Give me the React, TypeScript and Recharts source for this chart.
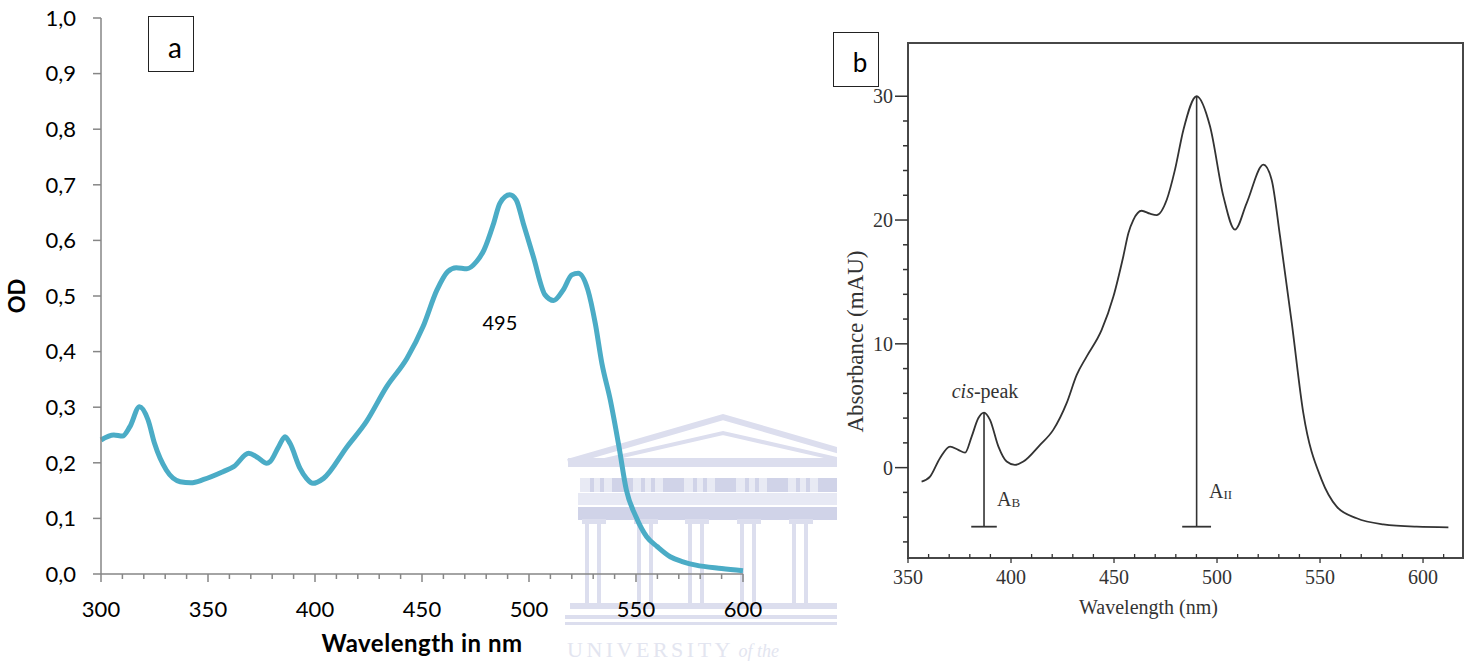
import React from "react";
import { LineChart, Line, XAxis, YAxis, ReferenceDot, ReferenceLine, ReferenceArea } from "recharts";

// panel a: OD spectrum (Excel-style)
const wavelengthA = [300, 306, 310, 313.5, 318, 322, 325, 330.5, 337, 342, 348, 357, 362, 369, 373, 377.5, 379, 383, 386, 388.3, 393, 396, 399, 404, 415, 424, 433.5, 443, 450.5, 457, 462, 466, 471, 475.5, 479, 483.5, 486.4, 491, 494, 497.3, 502, 507.5, 511.5, 516, 520, 523, 527.5, 531, 534, 538, 542, 545.5, 550, 555, 560, 566, 572, 578, 590, 600];
const odA = [0.241, 0.25, 0.248, 0.265, 0.301, 0.277, 0.235, 0.187, 0.166, 0.164, 0.17, 0.184, 0.193, 0.217, 0.21, 0.199, 0.202, 0.229, 0.247, 0.235, 0.19, 0.172, 0.163, 0.172, 0.229, 0.274, 0.337, 0.388, 0.445, 0.511, 0.544, 0.551, 0.549, 0.562, 0.583, 0.631, 0.667, 0.682, 0.673, 0.631, 0.571, 0.502, 0.492, 0.511, 0.538, 0.541, 0.511, 0.45, 0.38, 0.313, 0.23, 0.151, 0.103, 0.067, 0.049, 0.031, 0.022, 0.016, 0.01, 0.006];
const xTicksA = [300, 310, 320, 330, 340, 350, 360, 370, 380, 390, 400, 410, 420, 430, 440, 450, 460, 470, 480, 490, 500, 510, 520, 530, 540, 550, 560, 570, 580, 590, 600];
const yTicksA = [0, 0.1, 0.2, 0.3, 0.4, 0.5, 0.6, 0.7, 0.8, 0.9, 1.0];
const peakNoteA = { wl: 486.4, od: 0.451, text: "495" };

// panel b: absorbance spectrum (scanned figure)
const wavelengthB = [356.6, 360.7, 365.5, 370.4, 374.4, 377.7, 380.9, 384.1, 386.9, 389.8, 393.9, 397.9, 401.9, 406, 414.1, 420.5, 427, 431.9, 436.7, 444, 449.7, 454.5, 457, 459.4, 463.4, 467.5, 470.7, 475.6, 479.6, 483.7, 490.1, 496.6, 503.1, 508.7, 514.4, 522.5, 526.5, 530.6, 536.3, 541.9, 550.8, 558.1, 567.8, 580.7, 596.9, 612.3];
const absB = [-1.13, -0.73, 0.76, 1.7, 1.43, 1.21, 2.51, 3.99, 4.45, 3.86, 1.7, 0.49, 0.22, 0.49, 1.84, 3.05, 5.21, 7.49, 8.97, 11.13, 13.82, 17.06, 18.95, 20.02, 20.75, 20.51, 20.4, 21.64, 24.07, 27.3, 30.0, 27.57, 21.91, 19.22, 21.37, 24.47, 23.26, 18.67, 11.67, 4.4, -0.99, -3.15, -4.09, -4.58, -4.77, -4.82];
const xTicksB = [350, 360, 370, 380, 390, 400, 410, 420, 430, 440, 450, 460, 470, 480, 490, 500, 510, 520, 530, 540, 550, 560, 570, 580, 590, 600, 610];
const yTicksB = [-6, -4, -2, 0, 2, 4, 6, 8, 10, 12, 14, 16, 18, 20, 22, 24, 26, 28, 30];
const domainXB: [number, number] = [350, 619.4];
const domainYB: [number, number] = [-7.3, 34.3];

// measured bars (A_B, A_II)
const barWavelengths = [386.9, 490.1];
const barTops = [4.45, 30.0];
const barBase = -4.77;
const barCapHalf = [6.2, 7];
const barSubs = ["B", "II"];
const barLabelWl = [393.2, 496.1];
const barLabelAbs = [-3.1, -2.45];
const cisNote = { wl: 387.4, abs: 5.61 };

const dataA = wavelengthA.map((wl, i) => ({ wl, od: odA[i] }));
const dataB = wavelengthB.map((wl, i) => ({ wl, abs: absB[i] }));

const GREY = "#868686";
const INK = "#333";
const CAL = "Lato, 'Open Sans', sans-serif";
const TIMES = "'Liberation Serif', 'DejaVu Serif', serif";

function WaveTickA({ x, y, payload }: any) {
  const major = payload.value % 50 === 0;
  const axisY = y - 8;
  return (
    <g>
      <line x1={x} x2={x} y1={axisY} y2={axisY + (major ? 8 : 5)} stroke={GREY} strokeWidth={1.5} />
      {major && (
        <text x={x} y={axisY + 43} textAnchor="middle" fontFamily={CAL} fontSize={22} fill="#000">
          {payload.value}
        </text>
      )}
    </g>
  );
}

function WaveTickB({ x, y, payload }: any) {
  const major = payload.value % 50 === 0;
  const axisY = y - 6;
  return (
    <g>
      <line x1={x} x2={x} y1={major ? axisY : axisY - 4} y2={major ? axisY + 5 : axisY} stroke={INK} strokeWidth={1.3} />
      {major && (
        <text x={x} y={axisY + 25.5} textAnchor="middle" fontFamily={TIMES} fontSize={20} fill={INK}>
          {payload.value}
        </text>
      )}
    </g>
  );
}

function AbsTick({ x, y, payload }: any) {
  const major = payload.value % 10 === 0;
  const axisX = x + 13;
  return (
    <g>
      <line x1={axisX - (major ? 13 : 5)} x2={axisX} y1={y} y2={y} stroke={INK} strokeWidth={1.5} />
      {major && (
        <text x={axisX - 15} y={y} dy="0.36em" textAnchor="end" fontFamily={TIMES} fontSize={20} fill={INK}>
          {payload.value}
        </text>
      )}
    </g>
  );
}

function OdChart() {
  return (
    <LineChart width={800} height={666} data={dataA} margin={{ top: 18, right: 57, bottom: 0, left: 0 }}>
      <XAxis
        dataKey="wl"
        type="number"
        domain={[300, 600]}
        ticks={xTicksA}
        interval={0}
        height={92}
        tickSize={8}
        tickMargin={0}
        tickLine={false}
        axisLine={{ stroke: GREY, strokeWidth: 1.5 }}
        tick={WaveTickA}
        label={{
          content: (p: any) => (
            <text x={p.viewBox.x + p.viewBox.width / 2} y={652} textAnchor="middle" fontFamily={CAL} fontWeight="bold" fontSize={24} letterSpacing={0.5} fill="#000">
              Wavelength in nm
            </text>
          ),
        }}
      />
      <YAxis
        type="number"
        domain={[0, 1]}
        ticks={yTicksA}
        interval={0}
        width={101}
        tickSize={8}
        tickMargin={17}
        tickLine={{ stroke: GREY, strokeWidth: 1.5 }}
        axisLine={{ stroke: GREY, strokeWidth: 1.5 }}
        tick={{ fontFamily: CAL, fontSize: 22, fill: "#000" }}
        tickFormatter={(v: number) => v.toFixed(1).replace(".", ",")}
        label={{
          content: (p: any) => {
            const cy = p.viewBox.y + p.viewBox.height / 2;
            return (
              <text x={25} y={cy} transform={`rotate(-90, 25, ${cy})`} textAnchor="middle" fontFamily={CAL} fontWeight="bold" fontSize={22} fill="#000">
                OD
              </text>
            );
          },
        }}
      />
      <Line type="monotone" dataKey="od" stroke="#4bacc6" strokeWidth={5} dot={false} isAnimationActive={false} />
      <ReferenceDot
        x={peakNoteA.wl}
        y={peakNoteA.od}
        r={0}
        shape={(p: any) => (
          <text x={p.cx} y={p.cy} dy="0.36em" textAnchor="middle" fontFamily={CAL} fontSize={20} fill="#000">
            {peakNoteA.text}
          </text>
        )}
      />
    </LineChart>
  );
}

function AbsorbanceChart() {
  return (
    <LineChart width={641} height={666} data={dataB} margin={{ top: 43, right: 8, bottom: 0, left: 0 }}>
      <XAxis
        dataKey="wl"
        type="number"
        domain={domainXB}
        allowDataOverflow
        ticks={xTicksB}
        interval={0}
        height={108}
        tickSize={6}
        tickMargin={0}
        tickLine={false}
        axisLine={false}
        tick={WaveTickB}
        label={{
          content: (p: any) => (
            <text x={p.viewBox.x + p.viewBox.width / 2 - 37} y={p.viewBox.y + 56} textAnchor="middle" fontFamily={TIMES} fontSize={20} fill={INK}>
              Wavelength (nm)
            </text>
          ),
        }}
      />
      <YAxis
        type="number"
        domain={domainYB}
        allowDataOverflow
        ticks={yTicksB}
        interval={0}
        width={78}
        tickSize={13}
        tickMargin={0}
        tickLine={false}
        axisLine={false}
        tick={AbsTick}
        label={{
          content: (p: any) => {
            const cy = p.viewBox.y + p.viewBox.height / 2 + 41;
            return (
              <text x={33} y={cy} transform={`rotate(-90, 33, ${cy})`} textAnchor="middle" fontFamily={TIMES} fontSize={23} fill={INK}>
                Absorbance (mAU)
              </text>
            );
          },
        }}
      />
      <ReferenceArea x1={domainXB[0]} x2={domainXB[1]} y1={domainYB[0]} y2={domainYB[1]} fill="none" stroke="#474747" strokeWidth={2} ifOverflow="visible" />
      <Line type="monotone" dataKey="abs" stroke={INK} strokeWidth={1.8} dot={false} isAnimationActive={false} />
      {barWavelengths.map((wl, i) => (
        <ReferenceLine key={`v${i}`} segment={[{ x: wl, y: barTops[i] }, { x: wl, y: barBase }]} stroke={INK} strokeWidth={1.6} />
      ))}
      {barWavelengths.map((wl, i) => (
        <ReferenceLine key={`c${i}`} segment={[{ x: wl - barCapHalf[i], y: barBase }, { x: wl + barCapHalf[i], y: barBase }]} stroke={INK} strokeWidth={1.8} />
      ))}
      {barSubs.map((sub, i) => (
        <ReferenceDot
          key={`l${i}`}
          x={barLabelWl[i]}
          y={barLabelAbs[i]}
          r={0}
          shape={(p: any) => (
            <text x={p.cx} y={p.cy} fontFamily={TIMES} fontSize={20} fill={INK}>
              A<tspan fontSize={13} dy={1}>{sub}</tspan>
            </text>
          )}
        />
      ))}
      <ReferenceDot
        x={cisNote.wl}
        y={cisNote.abs}
        r={0}
        shape={(p: any) => (
          <text x={p.cx} y={p.cy} textAnchor="middle" fontFamily={TIMES} fontSize={20} fill={INK}>
            <tspan fontStyle="italic">cis</tspan>-peak
          </text>
        )}
      />
    </LineChart>
  );
}

function Watermark() {
  const light = "#dcdeee";
  const mid = "#d0d3e8";
  const columns = [585, 637, 688, 740, 792];
  const frieze = [612, 663, 715, 767, 818];
  return (
    <svg width={1471} height={666} style={{ position: "absolute", left: 0, top: 0 }}>
      <defs>
        <clipPath id="wm-clip">
          <rect x={560} y={400} width={277} height={240} />
        </clipPath>
      </defs>
      <g clipPath="url(#wm-clip)">
        <polyline points="568,462 723,417 878,462" fill="none" stroke={light} strokeWidth={6} />
        <polyline points="596,462 723,433 850,462" fill="none" stroke={light} strokeWidth={4} />
        <rect x={568} y={458} width={300} height={9} fill={light} />
        <rect x={580} y={478} width={260} height={14} fill="#e8eaf4" />
        {frieze.map((fx) => (
          <g key={fx} fill={mid}>
            <rect x={fx - 22} y={478} width={4} height={14} />
            <rect x={fx - 12} y={478} width={4} height={14} />
            <rect x={fx} y={478} width={21} height={14} />
          </g>
        ))}
        <rect x={578} y={493} width={262} height={12} fill="#e7e9f4" />
        <rect x={578} y={507} width={262} height={13} fill={mid} />
        {columns.map((cx) => (
          <g key={cx} fill={light}>
            <rect x={cx - 3} y={519} width={24} height={5} />
            <rect x={cx} y={524} width={4} height={80} />
            <rect x={cx + 12} y={524} width={4} height={80} />
          </g>
        ))}
        <rect x={570} y={603} width={270} height={6} fill={light} />
        <rect x={565} y={615} width={275} height={4} fill={light} />
        <rect x={565} y={622} width={275} height={3} fill={light} />
      </g>
      <text x={567} y={657} fontFamily={TIMES} fontSize={22} letterSpacing={3.5} fill="#e3e5f0">
        UNIVERSITY
        <tspan fontStyle="italic" fontSize={18} letterSpacing={0}> of the</tspan>
      </text>
    </svg>
  );
}

function PanelTag({ left, top, width, height, letter, size }: { left: number; top: number; width: number; height: number; letter: string; size: number }) {
  return (
    <div
      style={{
        position: "absolute",
        left,
        top,
        width,
        height,
        boxSizing: "border-box",
        border: "1px solid #222",
        background: "#fff",
        display: "flex",
        alignItems: "center",
        justifyContent: "center",
        paddingLeft: 8,
        paddingTop: 5,
        fontFamily: CAL,
        fontSize: size,
        lineHeight: 1,
        color: "#000",
      }}
    >
      {letter}
    </div>
  );
}

export default function App() {
  return (
    <div style={{ position: "absolute", left: 0, top: 0, width: 1471, height: 666, background: "#fff", overflow: "hidden" }}>
      <Watermark />
      <div style={{ position: "absolute", left: 0, top: 0 }}>
        <OdChart />
      </div>
      <div style={{ position: "absolute", left: 830, top: 0 }}>
        <AbsorbanceChart />
      </div>
      <PanelTag left={148} top={16} width={46} height={56} letter="a" size={28} />
      <PanelTag left={833} top={32} width={46} height={55} letter="b" size={26} />
    </div>
  );
}
